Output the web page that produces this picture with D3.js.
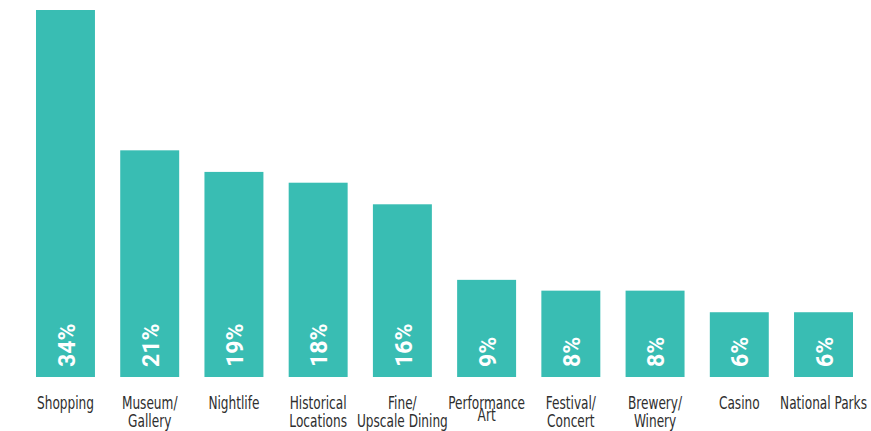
<!DOCTYPE html>
<html>
<head>
<meta charset="utf-8">
<script src="https://cdn.jsdelivr.net/npm/d3@7"></script>
<style>
  html, body { margin: 0; padding: 0; background: #fff; }
  svg { display: block; }
  .label { font-family: "DejaVu Sans Condensed", "DejaVu Sans", sans-serif; font-size: 18px; fill: #2e2e2e; }
  .value { font-family: Roboto, "DejaVu Sans", sans-serif; font-weight: 700; font-size: 23px; fill: #fff; }
</style>
</head>
<body>
<svg width="871" height="431"></svg>
<script>
// data
const categories = ["Shopping", "Museum/\nGallery", "Nightlife", "Historical\nLocations",
    "Fine/\nUpscale Dining", "Performance\nArt", "Festival/\nConcert", "Brewery/\nWinery",
    "Casino", "National Parks"];
const values = [34, 21, 19, 18, 16, 9, 8, 8, 6, 6];

let svg = d3.select("svg"),
    barColor = "#39bdb3",
    baseY = 377,
    topY = 10,
    squeeze = 0.75; // the original uses a narrow condensed face

let x = d3.scaleBand()
    .domain(categories)
    .range([36, 853])
    .paddingInner(0.3)
    .paddingOuter(0);

let y = d3.scaleLinear()
    .domain([0, d3.max(values)])
    .range([baseY, topY]);

let data = categories.map((c, i) => ({ name: c, value: values[i] }));

// bars
svg.selectAll(".bar")
    .data(data)
    .enter().append("rect")
    .attr("class", "bar")
    .attr("x", d => x(d.name))
    .attr("y", d => y(d.value))
    .attr("width", x.bandwidth())
    .attr("height", d => y(0) - y(d.value))
    .attr("fill", barColor);

// value labels, rotated, sitting at the bottom of each bar
svg.selectAll(".value")
    .data(data)
    .enter().append("text")
    .attr("class", "value")
    .attr("transform", d => "translate(" + (x(d.name) + x.bandwidth() / 2) + "," + (baseY - 10) + ") rotate(-90)")
    .attr("dy", "0.4em")
    .text(d => d.value + "%");

// category labels under the bars
let labels = svg.selectAll(".label")
    .data(data)
    .enter().append("text")
    .attr("class", "label")
    .attr("text-anchor", "middle")
    .attr("transform", d => "translate(" + (x(d.name) + x.bandwidth() / 2) + ",409) scale(" + squeeze + ",1)");

labels.selectAll("tspan")
    .data(d => {
        let lines = d.name.split("\n");
        // "Performance Art" is set with a tighter leading in the original
        let lead = d.name.startsWith("Performance") ? 12 : 18;
        return lines.map((l, i) => ({ text: l, dy: i === 0 ? 0 : lead }));
    })
    .enter().append("tspan")
    .attr("x", 0)
    .attr("dy", d => d.dy)
    .text(d => d.text);
</script>
</body>
</html>
